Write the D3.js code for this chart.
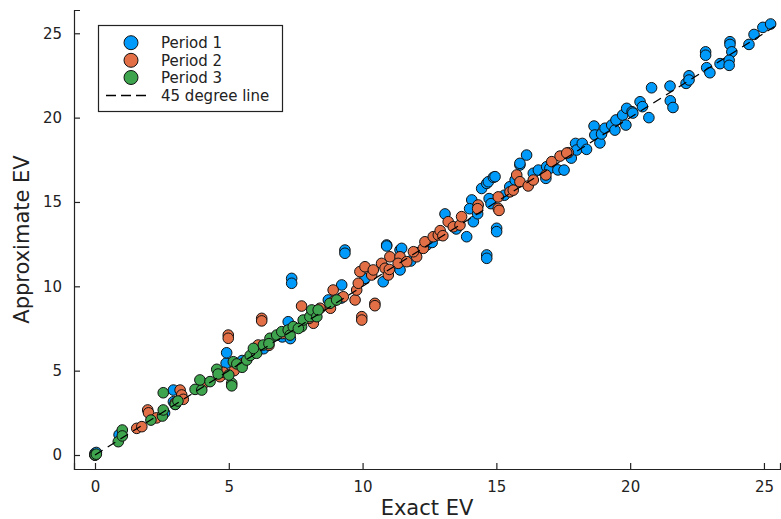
<!DOCTYPE html>
<html>
<head>
<meta charset="utf-8">
<script src="https://cdn.jsdelivr.net/npm/d3@7"></script>
<style>
  html, body { margin: 0; padding: 0; background: #fff; }
  svg { display: block; }
  text { font-family: "DejaVu Sans", sans-serif; }
</style>
</head>
<body>
<div id="chart"></div>
<script>
// ---------------- DATA ----------------
const seriesNames = ["Period 1", "Period 2", "Period 3"];
const lineName = "45 degree line";
const xTicks = [0, 5, 10, 15, 20, 25];
const yTicks = [0, 5, 10, 15, 20, 25];
const xLabel = "Exact EV";
const yLabel = "Approximate EV";
const diagX = [0, 25.4];

const period1 = [
  [0,0],[0,0.1],[0.05,0.15],[0.9,1.2],[2.93,3.85],[2.93,3.16],[2.6,2.5],[3.0,3.0],
  [4.0,4.3],[4.9,5.44],[4.92,6.06],[5.5,5.6],[6.1,6.2],[6.3,6.3],[7.0,7.0],[7.22,7.9],
  [7.35,10.47],[7.35,10.18],[7.3,6.9],[8.0,8.1],[8.72,9.19],[9.22,10.08],[9.34,12.15],
  [9.34,11.96],[9.2,9.3],[10.09,10.47],[10.77,10.27],[10.9,12.45],[10.9,12.39],[11.4,12.15],
  [11.46,12.25],[11.4,10.97],[11.8,11.5],[12.4,12.45],[12.6,12.6],[12.0,12.0],[13.08,14.29],
  [13.89,12.94],[13.5,13.4],[14.08,15.12],[14.0,14.6],[14.14,13.83],[14.3,14.3],[14.45,15.8],
  [14.64,16.1],[14.7,16.2],[14.89,16.46],[14.95,16.5],[14.73,15.2],[14.8,14.9],[14.64,11.86],
  [14.64,11.66],[15.01,13.44],[15.01,13.24],[15.3,15.4],[15.5,15.9],[15.7,16.3],[15.88,17.19],
  [15.88,17.29],[16.13,17.78],[16.38,16.7],[16.57,16.89],[16.85,16.4],[16.88,17.09],[17.0,17.0],
  [17.3,16.9],[17.53,16.89],[17.8,17.6],[17.96,18.47],[18.0,18.08],[18.21,18.47],[18.37,18.12],
  [18.65,19.5],[18.68,18.97],[18.87,18.5],[18.93,19.03],[19.06,19.37],[19.31,19.56],[19.43,19.26],
  [19.47,19.86],[19.72,20.15],[19.84,19.56],[19.87,20.55],[20.07,20.35],[20.1,20.27],[20.37,20.94],
  [20.46,20.65],[20.7,20.0],[20.8,21.77],[21.49,21.87],[21.5,21.0],[21.6,20.6],[22.09,22.03],
  [22.2,22.48],[22.2,22.23],[22.82,23.9],[22.82,23.7],[22.86,22.96],[22.98,22.66],[23.36,23.2],
  [23.73,24.5],[23.73,24.34],[23.8,23.9],[23.7,23.4],[23.7,23.1],[24.44,24.34],[24.63,24.93],
  [24.96,25.35],[25.25,25.55]
];

const period2 = [
  [0,0],[1.56,1.58],[1.75,1.68],[1.97,2.67],[2.0,2.5],[2.3,2.2],[3.18,3.85],[3.24,3.56],
  [3.0,3.1],[3.3,3.3],[4.0,4.1],[4.67,4.64],[4.8,4.9],[4.98,7.11],[4.98,6.92],[5.2,5.0],
  [5.5,5.4],[6.1,6.52],[6.23,8.1],[6.23,7.95],[6.5,6.5],[7.0,7.2],[7.72,8.83],[8.16,7.81],
  [8.41,8.7],[8.9,9.78],[9.28,9.38],[9.72,9.19],[9.78,9.78],[9.97,8.2],[9.97,8.0],[10.46,8.99],
  [10.46,8.85],[9.84,10.18],[9.9,10.87],[10.09,11.16],[10.34,10.67],[10.4,10.97],[10.71,11.36],
  [10.84,11.07],[10.96,10.67],[11.02,11.75],[11.4,11.75],[11.33,11.36],[11.65,11.46],[12.02,11.75],
  [11.9,12.05],[12.27,12.25],[12.33,12.64],[12.64,12.94],[12.83,13.04],[13.2,13.83],[13.39,13.53],
  [13.64,13.63],[13.7,14.13],[14.32,14.82],[14.3,14.6],[15.07,15.3],[15.07,14.62],[15.1,14.5],
  [15.51,15.6],[15.63,15.7],[15.76,16.6],[15.88,16.2],[16.19,15.95],[16.38,16.3],[16.85,16.6],
  [17.07,17.39],[17.38,17.72],[17.69,17.92],[17.63,17.9],[12.9,13.3],[13.0,13.0],[11.0,11.0],
  [8.8,8.7],[8.0,8.1],[8.93,9.13]
];

const period3 = [
  [0,0],[0.05,0.05],[0.87,0.79],[1.02,1.48],[1.02,1.13],[2.09,2.07],[2.52,2.31],[2.55,2.67],
  [2.55,3.69],[3.0,3.0],[3.1,3.2],[3.74,3.89],[3.99,3.85],[3.92,4.45],[4.3,4.35],[4.55,5.08],
  [5.11,4.25],[5.11,4.1],[5.0,4.74],[5.17,5.53],[5.3,5.4],[5.5,5.2],[5.67,5.63],[5.8,5.9],
  [6.04,6.03],[5.92,6.32],[6.29,6.52],[6.54,6.92],[6.79,7.11],[6.98,7.31],[7.22,7.41],[7.29,7.11],
  [7.41,7.61],[7.72,7.61],[7.78,8.0],[8.03,8.2],[8.1,8.6],[8.29,8.2],[8.34,8.6],[8.78,8.99],
  [9.03,9.19],[4.6,4.8],[6.5,6.6],[7.6,7.5]
];

const seriesColors = ["#009AFA", "#E36F47", "#3EA44E"];

// ---------------- CHART ----------------
const W = 781, H = 519;
const plot = { left: 74, right: 780, top: 10, bottom: 469 };

const svg = d3.select("#chart").append("svg")
  .attr("width", W).attr("height", H);

const x = d3.scaleLinear().domain([-0.785, 25.6]).range([plot.left, plot.right]);
const y = d3.scaleLinear().domain([-0.83, 26.38]).range([plot.bottom, plot.top]);

// Axes
const xAxis = d3.axisBottom(x).tickValues(xTicks).tickSize(-6).tickPadding(12).tickFormat(d3.format("d"));
const yAxis = d3.axisLeft(y).tickValues(yTicks).tickSize(-6).tickPadding(12).tickFormat(d3.format("d"));

const gx = svg.append("g").attr("transform", `translate(0,${plot.bottom})`).call(xAxis);
const gy = svg.append("g").attr("transform", `translate(${plot.left},0)`).call(yAxis);
[gx, gy].forEach(g => {
  g.select(".domain").attr("stroke", "#222").attr("stroke-width", 1.2);
  g.selectAll(".tick line").attr("stroke", "#222").attr("stroke-width", 1.2);
  g.selectAll(".tick text").attr("fill", "#222").style("font-size", "15px")
    .style("font-family", '"DejaVu Sans", sans-serif');
});
gx.selectAll(".tick text").attr("dy", "0.71em");

// Axis labels
svg.append("text")
  .attr("x", (plot.left + plot.right) / 2)
  .attr("y", 515)
  .attr("text-anchor", "middle")
  .style("font-size", "21px")
  .attr("fill", "#222")
  .text(xLabel);

svg.append("text")
  .attr("transform", `translate(29,${(plot.top + plot.bottom) / 2}) rotate(-90)`)
  .attr("text-anchor", "middle")
  .style("font-size", "21px")
  .attr("fill", "#222")
  .text(yLabel);

// Scatter points
const allSeries = [period1, period2, period3];
const pts = svg.append("g");
allSeries.forEach((data, i) => {
  pts.append("g").selectAll("circle").data(data).join("circle")
    .attr("cx", d => x(d[0]))
    .attr("cy", d => y(d[1]))
    .attr("r", 5.3)
    .attr("fill", seriesColors[i])
    .attr("stroke", "#111")
    .attr("stroke-width", 1);
});

// 45 degree line
svg.append("line")
  .attr("x1", x(diagX[0])).attr("y1", y(diagX[0]))
  .attr("x2", x(diagX[1])).attr("y2", y(diagX[1]))
  .attr("stroke", "#000").attr("stroke-width", 1.3)
  .attr("stroke-dasharray", "9,6");

// Legend
const leg = svg.append("g");
leg.append("rect")
  .attr("x", 98.5).attr("y", 25.5).attr("width", 184).attr("height", 86)
  .attr("fill", "#fff").attr("stroke", "#222").attr("stroke-width", 1.2);
const rowY = [42.7, 60.3, 77.5, 95.5];
seriesNames.forEach((name, i) => {
  leg.append("circle").attr("cx", 131).attr("cy", rowY[i]).attr("r", 7)
    .attr("fill", seriesColors[i]).attr("stroke", "#111").attr("stroke-width", 1);
  leg.append("text").attr("x", 161).attr("y", rowY[i]).attr("dy", "0.35em")
    .style("font-size", "15px").attr("fill", "#222").text(name);
});
leg.append("line").attr("x1", 106).attr("x2", 151).attr("y1", rowY[3]).attr("y2", rowY[3])
  .attr("stroke", "#000").attr("stroke-width", 1.3).attr("stroke-dasharray", "10,5");
leg.append("text").attr("x", 161).attr("y", rowY[3]).attr("dy", "0.35em")
  .style("font-size", "15px").attr("fill", "#222").text(lineName);
</script>
</body>
</html>
